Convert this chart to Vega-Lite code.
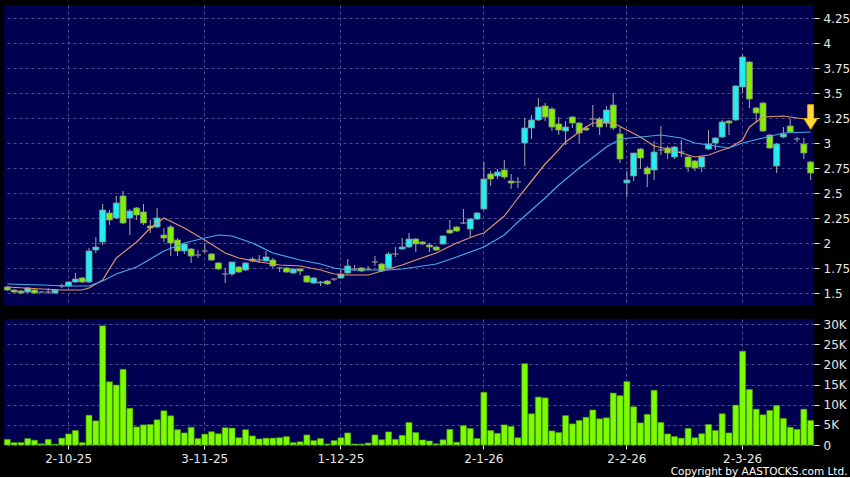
{
  "$schema": "https://vega.github.io/schema/vega-lite/v6.json",
  "background": "#000000",
  "padding": {"left": 3, "top": 5, "right": 0, "bottom": 0},
  "spacing": 13,
  "config": {
    "view": {"fill": "#000050", "stroke": null},
    "axis": {"labelColor": "#E6E6E6", "labelFont": "DejaVu Sans", "labelFontSize": 12, "labelOverlap": false, "tickColor": "#E6E6E6", "gridColor": "#4E4E8E", "gridDash": [3, 3], "gridWidth": 1, "domain": false, "titleColor": "#FFFFFF"}
  },
  "datasets": {
    "k": [
      {"d":"2025-09-18","o":1.56,"c":1.53,"h":1.57,"l":1.52,"v":1400},
      {"d":"2025-09-19","o":1.53,"c":1.51,"h":1.54,"l":1.50,"v":600},
      {"d":"2025-09-22","o":1.52,"c":1.50,"h":1.53,"l":1.49,"v":600},
      {"d":"2025-09-23","o":1.51,"c":1.55,"h":1.56,"l":1.50,"v":1600},
      {"d":"2025-09-24","o":1.53,"c":1.50,"h":1.54,"l":1.49,"v":1200},
      {"d":"2025-09-25","o":1.51,"c":1.51,"h":1.52,"l":1.50,"v":300},
      {"d":"2025-09-26","o":1.51,"c":1.51,"h":1.55,"l":1.49,"v":1400},
      {"d":"2025-09-29","o":1.50,"c":1.53,"h":1.54,"l":1.49,"v":200},
      {"d":"2025-09-30","o":1.57,"c":1.57,"h":1.59,"l":1.55,"v":1700},
      {"d":"2025-10-02","o":1.57,"c":1.61,"h":1.62,"l":1.56,"v":2750},
      {"d":"2025-10-03","o":1.61,"c":1.64,"h":1.70,"l":1.60,"v":3600},
      {"d":"2025-10-06","o":1.65,"c":1.61,"h":1.66,"l":1.60,"v":600},
      {"d":"2025-10-08","o":1.61,"c":1.92,"h":1.95,"l":1.60,"v":7400},
      {"d":"2025-10-09","o":1.93,"c":1.96,"h":2.06,"l":1.90,"v":6000},
      {"d":"2025-10-10","o":2.01,"c":2.33,"h":2.39,"l":1.98,"v":29600},
      {"d":"2025-10-13","o":2.30,"c":2.23,"h":2.33,"l":2.18,"v":15700},
      {"d":"2025-10-14","o":2.25,"c":2.40,"h":2.47,"l":2.24,"v":14900},
      {"d":"2025-10-15","o":2.47,"c":2.20,"h":2.52,"l":2.19,"v":18800},
      {"d":"2025-10-16","o":2.25,"c":2.32,"h":2.34,"l":2.08,"v":9100},
      {"d":"2025-10-17","o":2.35,"c":2.28,"h":2.36,"l":2.23,"v":4500},
      {"d":"2025-10-20","o":2.31,"c":2.20,"h":2.39,"l":2.18,"v":5000},
      {"d":"2025-10-21","o":2.17,"c":2.15,"h":2.23,"l":2.10,"v":5100},
      {"d":"2025-10-22","o":2.16,"c":2.25,"h":2.35,"l":2.15,"v":6250},
      {"d":"2025-10-23","o":2.08,"c":2.05,"h":2.15,"l":2.01,"v":8500},
      {"d":"2025-10-24","o":2.16,"c":2.00,"h":2.18,"l":1.87,"v":7250},
      {"d":"2025-10-27","o":2.03,"c":1.92,"h":2.05,"l":1.87,"v":3800},
      {"d":"2025-10-28","o":1.92,"c":1.99,"h":2.00,"l":1.89,"v":3000},
      {"d":"2025-10-30","o":1.94,"c":1.87,"h":1.95,"l":1.80,"v":4400},
      {"d":"2025-10-31","o":1.88,"c":1.88,"h":1.93,"l":1.85,"v":1600},
      {"d":"2025-11-03","o":1.92,"c":1.92,"h":2.00,"l":1.90,"v":2700},
      {"d":"2025-11-04","o":1.89,"c":1.83,"h":1.90,"l":1.82,"v":3300},
      {"d":"2025-11-05","o":1.80,"c":1.74,"h":1.81,"l":1.73,"v":2800},
      {"d":"2025-11-06","o":1.69,"c":1.69,"h":1.75,"l":1.60,"v":4300},
      {"d":"2025-11-07","o":1.69,"c":1.81,"h":1.81,"l":1.67,"v":4200},
      {"d":"2025-11-10","o":1.76,"c":1.71,"h":1.77,"l":1.70,"v":1800},
      {"d":"2025-11-11","o":1.73,"c":1.80,"h":1.81,"l":1.72,"v":3800},
      {"d":"2025-11-12","o":1.84,"c":1.82,"h":1.86,"l":1.81,"v":2250},
      {"d":"2025-11-13","o":1.83,"c":1.83,"h":1.88,"l":1.80,"v":1500},
      {"d":"2025-11-14","o":1.82,"c":1.86,"h":1.92,"l":1.81,"v":1700},
      {"d":"2025-11-17","o":1.83,"c":1.77,"h":1.85,"l":1.75,"v":1700},
      {"d":"2025-11-18","o":1.75,"c":1.75,"h":1.76,"l":1.71,"v":1800},
      {"d":"2025-11-19","o":1.75,"c":1.71,"h":1.76,"l":1.70,"v":2100},
      {"d":"2025-11-20","o":1.70,"c":1.74,"h":1.75,"l":1.69,"v":600},
      {"d":"2025-11-21","o":1.74,"c":1.72,"h":1.75,"l":1.68,"v":800},
      {"d":"2025-11-24","o":1.67,"c":1.61,"h":1.68,"l":1.60,"v":2500},
      {"d":"2025-11-25","o":1.60,"c":1.65,"h":1.66,"l":1.59,"v":1100},
      {"d":"2025-11-26","o":1.60,"c":1.61,"h":1.62,"l":1.57,"v":1600},
      {"d":"2025-11-27","o":1.62,"c":1.59,"h":1.63,"l":1.58,"v":250},
      {"d":"2025-11-28","o":1.64,"c":1.64,"h":1.65,"l":1.62,"v":1100},
      {"d":"2025-12-01","o":1.65,"c":1.69,"h":1.73,"l":1.64,"v":1800},
      {"d":"2025-12-02","o":1.70,"c":1.77,"h":1.84,"l":1.69,"v":3000},
      {"d":"2025-12-03","o":1.74,"c":1.74,"h":1.78,"l":1.72,"v":250},
      {"d":"2025-12-04","o":1.75,"c":1.72,"h":1.76,"l":1.71,"v":250},
      {"d":"2025-12-05","o":1.74,"c":1.74,"h":1.77,"l":1.73,"v":500},
      {"d":"2025-12-08","o":1.81,"c":1.81,"h":1.87,"l":1.77,"v":2500},
      {"d":"2025-12-09","o":1.79,"c":1.72,"h":1.80,"l":1.71,"v":1300},
      {"d":"2025-12-10","o":1.75,"c":1.89,"h":1.91,"l":1.74,"v":3250},
      {"d":"2025-12-11","o":1.89,"c":1.89,"h":1.96,"l":1.86,"v":1400},
      {"d":"2025-12-12","o":1.94,"c":1.96,"h":2.05,"l":1.93,"v":2400},
      {"d":"2025-12-15","o":1.96,"c":2.04,"h":2.10,"l":1.95,"v":5600},
      {"d":"2025-12-16","o":2.04,"c":1.99,"h":2.05,"l":1.91,"v":3100},
      {"d":"2025-12-17","o":2.01,"c":1.99,"h":2.02,"l":1.98,"v":1250},
      {"d":"2025-12-18","o":1.98,"c":1.96,"h":2.00,"l":1.91,"v":1000},
      {"d":"2025-12-19","o":1.96,"c":1.93,"h":1.97,"l":1.92,"v":300},
      {"d":"2025-12-22","o":1.99,"c":2.07,"h":2.08,"l":1.98,"v":1300},
      {"d":"2025-12-23","o":2.13,"c":2.10,"h":2.23,"l":2.09,"v":3900},
      {"d":"2025-12-24","o":2.16,"c":2.12,"h":2.17,"l":2.11,"v":700},
      {"d":"2025-12-29","o":2.20,"c":2.20,"h":2.34,"l":2.19,"v":4800},
      {"d":"2025-12-30","o":2.14,"c":2.24,"h":2.25,"l":2.05,"v":4100},
      {"d":"2025-12-31","o":2.24,"c":2.30,"h":2.31,"l":2.23,"v":1600},
      {"d":"2026-01-02","o":2.34,"c":2.64,"h":2.81,"l":2.33,"v":13100},
      {"d":"2026-01-05","o":2.69,"c":2.64,"h":2.72,"l":2.57,"v":3600},
      {"d":"2026-01-06","o":2.67,"c":2.71,"h":2.74,"l":2.64,"v":2900},
      {"d":"2026-01-07","o":2.73,"c":2.66,"h":2.83,"l":2.64,"v":5000},
      {"d":"2026-01-08","o":2.62,"c":2.60,"h":2.69,"l":2.54,"v":4600},
      {"d":"2026-01-09","o":2.61,"c":2.61,"h":2.66,"l":2.55,"v":1800},
      {"d":"2026-01-12","o":3.00,"c":3.15,"h":3.25,"l":2.77,"v":20200},
      {"d":"2026-01-13","o":3.15,"c":3.23,"h":3.28,"l":3.04,"v":7750},
      {"d":"2026-01-14","o":3.23,"c":3.36,"h":3.45,"l":3.22,"v":11900},
      {"d":"2026-01-15","o":3.37,"c":3.26,"h":3.40,"l":3.22,"v":11700},
      {"d":"2026-01-16","o":3.34,"c":3.16,"h":3.36,"l":3.12,"v":3500},
      {"d":"2026-01-19","o":3.19,"c":3.13,"h":3.26,"l":3.08,"v":3100},
      {"d":"2026-01-20","o":3.12,"c":3.16,"h":3.22,"l":2.98,"v":7300},
      {"d":"2026-01-21","o":3.26,"c":3.20,"h":3.27,"l":3.15,"v":5250},
      {"d":"2026-01-22","o":3.20,"c":3.10,"h":3.21,"l":3.00,"v":6100},
      {"d":"2026-01-23","o":3.15,"c":3.13,"h":3.17,"l":3.12,"v":6900},
      {"d":"2026-01-26","o":3.24,"c":3.24,"h":3.38,"l":3.16,"v":8700},
      {"d":"2026-01-27","o":3.24,"c":3.16,"h":3.26,"l":3.08,"v":6500},
      {"d":"2026-01-28","o":3.20,"c":3.33,"h":3.37,"l":3.16,"v":6750},
      {"d":"2026-01-29","o":3.38,"c":3.15,"h":3.50,"l":3.13,"v":12900},
      {"d":"2026-01-30","o":3.09,"c":2.84,"h":3.16,"l":2.80,"v":12250},
      {"d":"2026-02-02","o":2.60,"c":2.63,"h":2.72,"l":2.46,"v":15750},
      {"d":"2026-02-03","o":2.67,"c":2.90,"h":2.90,"l":2.62,"v":9500},
      {"d":"2026-02-04","o":2.94,"c":2.85,"h":2.95,"l":2.74,"v":5500},
      {"d":"2026-02-05","o":2.75,"c":2.69,"h":2.77,"l":2.56,"v":7600},
      {"d":"2026-02-06","o":2.73,"c":2.91,"h":3.02,"l":2.63,"v":13600},
      {"d":"2026-02-09","o":2.93,"c":2.93,"h":3.17,"l":2.88,"v":5600},
      {"d":"2026-02-10","o":2.95,"c":2.90,"h":2.97,"l":2.84,"v":2750},
      {"d":"2026-02-11","o":2.86,"c":2.96,"h":2.97,"l":2.84,"v":2100},
      {"d":"2026-02-12","o":2.91,"c":2.91,"h":3.03,"l":2.86,"v":1700},
      {"d":"2026-02-13","o":2.86,"c":2.76,"h":2.87,"l":2.71,"v":4100},
      {"d":"2026-02-16","o":2.82,"c":2.75,"h":2.83,"l":2.72,"v":1800},
      {"d":"2026-02-20","o":2.76,"c":2.86,"h":2.87,"l":2.71,"v":2800},
      {"d":"2026-02-23","o":2.94,"c":2.99,"h":3.13,"l":2.93,"v":5100},
      {"d":"2026-02-24","o":3.00,"c":3.05,"h":3.06,"l":2.93,"v":3600},
      {"d":"2026-02-25","o":3.06,"c":3.21,"h":3.23,"l":3.05,"v":7750},
      {"d":"2026-02-26","o":3.22,"c":3.20,"h":3.23,"l":3.08,"v":3000},
      {"d":"2026-02-27","o":3.23,"c":3.57,"h":3.58,"l":3.22,"v":9900},
      {"d":"2026-03-02","o":3.56,"c":3.86,"h":3.89,"l":3.50,"v":23300},
      {"d":"2026-03-03","o":3.81,"c":3.44,"h":3.82,"l":3.35,"v":13800},
      {"d":"2026-03-04","o":3.35,"c":3.30,"h":3.36,"l":3.21,"v":8900},
      {"d":"2026-03-05","o":3.40,"c":3.12,"h":3.41,"l":3.11,"v":7500},
      {"d":"2026-03-06","o":3.08,"c":2.95,"h":3.09,"l":2.94,"v":8600},
      {"d":"2026-03-09","o":2.77,"c":2.99,"h":3.00,"l":2.70,"v":9800},
      {"d":"2026-03-10","o":3.06,"c":3.09,"h":3.16,"l":3.05,"v":6600},
      {"d":"2026-03-11","o":3.17,"c":3.11,"h":3.24,"l":3.10,"v":4400},
      {"d":"2026-03-12","o":3.04,"c":3.04,"h":3.06,"l":3.01,"v":3900},
      {"d":"2026-03-13","o":2.99,"c":2.90,"h":3.05,"l":2.84,"v":8900},
      {"d":"2026-03-16","o":2.81,"c":2.70,"h":2.82,"l":2.63,"v":6100}
    ],
    "ma": [
      {"d":"2025-09-18","s":"a","v":1.56},{"d":"2025-09-25","s":"a","v":1.54},{"d":"2025-09-30","s":"a","v":1.53},{"d":"2025-10-06","s":"a","v":1.53},
      {"d":"2025-10-08","s":"a","v":1.55},{"d":"2025-10-10","s":"a","v":1.63},{"d":"2025-10-14","s":"a","v":1.85},{"d":"2025-10-17","s":"a","v":2.01},
      {"d":"2025-10-21","s":"a","v":2.15},{"d":"2025-10-23","s":"a","v":2.25},{"d":"2025-10-28","s":"a","v":2.15},{"d":"2025-11-03","s":"a","v":2.03},
      {"d":"2025-11-06","s":"a","v":1.90},{"d":"2025-11-10","s":"a","v":1.85},{"d":"2025-11-13","s":"a","v":1.81},{"d":"2025-11-18","s":"a","v":1.78},
      {"d":"2025-11-21","s":"a","v":1.77},{"d":"2025-11-26","s":"a","v":1.73},{"d":"2025-11-28","s":"a","v":1.69},{"d":"2025-12-02","s":"a","v":1.68},
      {"d":"2025-12-05","s":"a","v":1.68},{"d":"2025-12-09","s":"a","v":1.72},{"d":"2025-12-12","s":"a","v":1.78},{"d":"2025-12-16","s":"a","v":1.83},
      {"d":"2025-12-19","s":"a","v":1.90},{"d":"2025-12-24","s":"a","v":2.00},{"d":"2025-12-31","s":"a","v":2.08},{"d":"2026-01-02","s":"a","v":2.10},
      {"d":"2026-01-07","s":"a","v":2.27},{"d":"2026-01-09","s":"a","v":2.45},{"d":"2026-01-13","s":"a","v":2.62},{"d":"2026-01-15","s":"a","v":2.79},
      {"d":"2026-01-16","s":"a","v":2.86},{"d":"2026-01-20","s":"a","v":3.01},{"d":"2026-01-23","s":"a","v":3.16},{"d":"2026-01-26","s":"a","v":3.20},
      {"d":"2026-01-29","s":"a","v":3.20},{"d":"2026-02-02","s":"a","v":3.13},{"d":"2026-02-04","s":"a","v":3.06},{"d":"2026-02-06","s":"a","v":2.97},
      {"d":"2026-02-10","s":"a","v":2.94},{"d":"2026-02-12","s":"a","v":2.90},{"d":"2026-02-16","s":"a","v":2.86},{"d":"2026-02-23","s":"a","v":2.88},
      {"d":"2026-02-25","s":"a","v":2.93},{"d":"2026-02-26","s":"a","v":2.95},{"d":"2026-03-02","s":"a","v":3.03},{"d":"2026-03-03","s":"a","v":3.16},
      {"d":"2026-03-05","s":"a","v":3.26},{"d":"2026-03-10","s":"a","v":3.27},{"d":"2026-03-12","s":"a","v":3.25},{"d":"2026-03-16","s":"a","v":3.23},
      {"d":"2025-09-18","s":"b","v":1.59},{"d":"2025-09-25","s":"b","v":1.58},{"d":"2025-10-02","s":"b","v":1.57},{"d":"2025-10-08","s":"b","v":1.57},
      {"d":"2025-10-10","s":"b","v":1.62},{"d":"2025-10-14","s":"b","v":1.69},{"d":"2025-10-17","s":"b","v":1.76},{"d":"2025-10-21","s":"b","v":1.84},
      {"d":"2025-10-23","s":"b","v":1.92},{"d":"2025-10-28","s":"b","v":2.00},{"d":"2025-11-03","s":"b","v":2.05},{"d":"2025-11-05","s":"b","v":2.08},
      {"d":"2025-11-07","s":"b","v":2.07},{"d":"2025-11-12","s":"b","v":2.00},{"d":"2025-11-17","s":"b","v":1.90},{"d":"2025-11-21","s":"b","v":1.83},
      {"d":"2025-11-26","s":"b","v":1.79},{"d":"2025-11-28","s":"b","v":1.75},{"d":"2025-12-02","s":"b","v":1.73},{"d":"2025-12-08","s":"b","v":1.73},
      {"d":"2025-12-10","s":"b","v":1.73},{"d":"2025-12-12","s":"b","v":1.74},{"d":"2025-12-16","s":"b","v":1.76},{"d":"2025-12-19","s":"b","v":1.79},
      {"d":"2025-12-24","s":"b","v":1.86},{"d":"2026-01-02","s":"b","v":1.96},{"d":"2026-01-07","s":"b","v":2.08},{"d":"2026-01-09","s":"b","v":2.21},
      {"d":"2026-01-15","s":"b","v":2.45},{"d":"2026-01-19","s":"b","v":2.58},{"d":"2026-01-22","s":"b","v":2.75},{"d":"2026-01-28","s":"b","v":2.96},
      {"d":"2026-01-30","s":"b","v":3.04},{"d":"2026-02-04","s":"b","v":3.06},{"d":"2026-02-09","s":"b","v":3.08},{"d":"2026-02-12","s":"b","v":3.05},
      {"d":"2026-02-16","s":"b","v":3.00},{"d":"2026-02-24","s":"b","v":2.97},{"d":"2026-02-26","s":"b","v":2.95},{"d":"2026-03-02","s":"b","v":3.00},
      {"d":"2026-03-05","s":"b","v":3.05},{"d":"2026-03-10","s":"b","v":3.10},{"d":"2026-03-16","s":"b","v":3.11}
    ]
  },
  "vconcat": [
    {
      "width": 810,
      "height": 300,
      "encoding": {
        "x": {"field": "d", "type": "ordinal", "scale": {"paddingInner": 0.12, "paddingOuter": 0.05},
          "axis": {"values": ["2025-10-02","2025-11-03","2025-12-01","2026-01-02","2026-02-02","2026-03-02"], "labels": false, "ticks": false, "grid": true, "title": null}}
      },
      "layer": [
        {
          "data": {"name": "k"},
          "mark": {"type": "rule", "color": "#A8A8A8", "strokeWidth": 1},
          "encoding": {
            "y": {"field": "l", "type": "quantitative", "scale": {"domain": [1.38, 4.38], "nice": false, "zero": false},
              "axis": {"orient": "right", "values": [1.5,1.75,2,2.25,2.5,2.75,3,3.25,3.5,3.75,4,4.25], "labelExpr": "format(datum.value, '.2~f')", "grid": true, "ticks": true, "tickSize": 5, "labelPadding": 4, "labelOverlap": false, "title": null}},
            "y2": {"field": "h"}
          }
        },
        {
          "data": {"name": "k"},
          "mark": {"type": "bar", "stroke": "#8C8C8C", "strokeWidth": 0.8},
          "encoding": {
            "y": {"field": "o", "type": "quantitative",
              "axis": {"orient": "right", "values": [1.5,1.75,2,2.25,2.5,2.75,3,3.25,3.5,3.75,4,4.25], "labelExpr": "format(datum.value, '.2~f')", "grid": true, "ticks": true, "tickSize": 5, "labelPadding": 4, "labelOverlap": false, "title": null}},
            "y2": {"field": "c"},
            "fill": {"condition": [{"test": "datum.c > datum.o", "value": "#22EEF2"}, {"test": "datum.c < datum.o", "value": "#7FF000"}], "value": "#9A9A9A"}
          }
        },
        {
          "data": {"name": "ma"},
          "mark": {"type": "line", "strokeWidth": 1.2},
          "encoding": {
            "y": {"field": "v", "type": "quantitative",
              "axis": {"orient": "right", "values": [1.5,1.75,2,2.25,2.5,2.75,3,3.25,3.5,3.75,4,4.25], "labelExpr": "format(datum.value, '.2~f')", "grid": true, "ticks": true, "tickSize": 5, "labelPadding": 4, "labelOverlap": false, "title": null}},
            "color": {"field": "s", "type": "nominal", "scale": {"domain": ["a", "b"], "range": ["#E0946A", "#46A8E8"]}, "legend": null}
          }
        },
        {
          "data": {"values": [{"d": "2026-03-16", "p": 3.26}]},
          "mark": {"type": "point", "shape": "M-0.24,-1L0.24,-1L0.24,0.12L0.56,0.12L0,1L-0.56,0.12L-0.24,0.12Z", "size": 600, "filled": true, "fill": "#FFD83A", "stroke": "#F0A800", "strokeWidth": 1, "opacity": 1},
          "encoding": {"y": {"field": "p", "type": "quantitative",
            "axis": {"orient": "right", "values": [1.5,1.75,2,2.25,2.5,2.75,3,3.25,3.5,3.75,4,4.25], "labelExpr": "format(datum.value, '.2~f')", "grid": true, "ticks": true, "tickSize": 5, "labelPadding": 4, "labelOverlap": false, "title": null}}}
        }
      ]
    },
    {
      "width": 810,
      "height": 126,
      "data": {"name": "k"},
      "mark": {"type": "bar", "fill": "#7CFC00", "stroke": "#4E9E00", "strokeWidth": 0.6},
      "encoding": {
        "x": {"field": "d", "type": "ordinal", "scale": {"paddingInner": 0.12, "paddingOuter": 0.05},
          "axis": {"values": ["2025-10-02","2025-11-03","2025-12-01","2026-01-02","2026-02-02","2026-03-02"],
            "labelExpr": "toNumber(slice(datum.value,8,10)) + '-' + toNumber(slice(datum.value,5,7)) + '-' + slice(datum.value,2,4)",
            "labelAngle": 0, "grid": true, "ticks": true, "tickSize": 4, "labelPadding": 4,
            "title": "Copyright by AASTOCKS.com Ltd.", "titleX": 843, "titleY": 29, "titleAlign": "right", "titleBaseline": "alphabetic",
            "titleFont": "DejaVu Sans", "titleFontSize": 10.5, "titleFontWeight": "normal"}},
        "y": {"field": "v", "type": "quantitative", "scale": {"domain": [0, 31300], "nice": false},
          "axis": {"orient": "right", "values": [0,5000,10000,15000,20000,25000,30000], "labelExpr": "datum.value == 0 ? '0' : (datum.value/1000) + 'K'", "grid": true, "ticks": true, "tickSize": 5, "labelPadding": 4, "labelOverlap": false, "title": null}}
      }
    }
  ]
}
